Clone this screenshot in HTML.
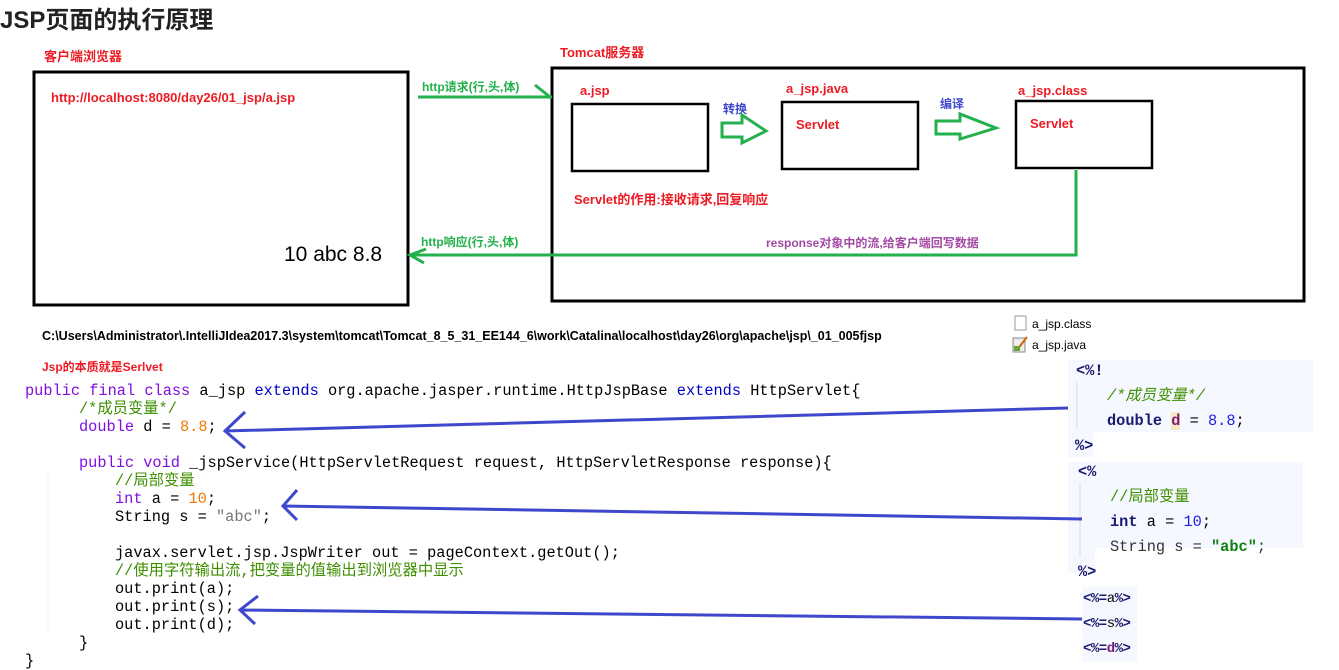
<!DOCTYPE html>
<html><head><meta charset="utf-8"><style>
body{margin:0;background:#fff;width:1339px;height:662px;overflow:hidden;position:relative;font-family:"Liberation Sans","Noto Sans CJK SC",sans-serif}
.a{position:absolute;white-space:pre}
.code{position:absolute;left:0;top:0;font-family:"Liberation Mono","Noto Sans CJK SC",monospace;font-size:15.3px;line-height:18px;color:#000}
.code div{position:absolute;white-space:pre}
.kw{color:#7f0ee0}.bk{color:#0000c8}.cm{color:#3f8f00}.num{color:#f07800}.str{color:#777}
</style></head><body>
<div class="a" style="left:0;top:0;font-size:24px;font-weight:bold;color:#222">JSP页面的执行原理</div>
<div class="a" style="left:44px;top:46px;font-size:13px;font-weight:bold;color:#ed1c24">客户端浏览器</div>
<div class="a" style="left:560px;top:42px;font-size:13px;font-weight:bold;color:#ed1c24">Tomcat服务器</div>
<div class="a" style="left:51px;top:90px;font-size:13px;font-weight:bold;color:#ed1c24">http://localhost:8080/day26/01_jsp/a.jsp</div>
<div class="a" style="left:284px;top:243px;font-size:21px;color:#000">10 abc 8.8</div>
<div class="a" style="left:422px;top:78px;font-size:12px;font-weight:bold;color:#22b14c">http请求(行,头,体)</div>
<div class="a" style="left:421px;top:233px;font-size:12px;font-weight:bold;color:#22b14c">http响应(行,头,体)</div>
<div class="a" style="left:580px;top:83px;font-size:13px;font-weight:bold;color:#ed1c24">a.jsp</div>
<div class="a" style="left:786px;top:81px;font-size:13px;font-weight:bold;color:#ed1c24">a_jsp.java</div>
<div class="a" style="left:1018px;top:83px;font-size:13px;font-weight:bold;color:#ed1c24">a_jsp.class</div>
<div class="a" style="left:796px;top:117px;font-size:13px;font-weight:bold;color:#ed1c24">Servlet</div>
<div class="a" style="left:1030px;top:116px;font-size:13px;font-weight:bold;color:#ed1c24">Servlet</div>
<div class="a" style="left:723px;top:100px;font-size:12px;font-weight:bold;color:#3f48cc">转换</div>
<div class="a" style="left:940px;top:95px;font-size:12px;font-weight:bold;color:#3f48cc">编译</div>
<div class="a" style="left:574px;top:189px;font-size:13px;font-weight:bold;color:#ed1c24">Servlet的作用:接收请求,回复响应</div>
<div class="a" style="left:766px;top:234px;font-size:12px;font-weight:bold;color:#a349a4">response对象中的流,给客户端回写数据</div>
<div class="a" style="left:42px;top:329px;font-size:12.5px;font-weight:bold;color:#000">C:\Users\Administrator\.IntelliJIdea2017.3\system\tomcat\Tomcat_8_5_31_EE144_6\work\Catalina\localhost\day26\org\apache\jsp\_01_005fjsp</div>
<div class="a" style="left:42px;top:358px;font-size:12px;font-weight:bold;color:#ed1c24">Jsp的本质就是Serlvet</div>
<div class="a" style="left:1032px;top:317px;font-size:12px;color:#000">a_jsp.class</div>
<div class="a" style="left:1032px;top:338px;font-size:12px;color:#000">a_jsp.java</div>

<svg width="1339" height="662" style="position:absolute;left:0;top:0">
<g fill="none" stroke="#000" stroke-width="3">
<rect x="34" y="72" width="374" height="233"/>
<rect x="552" y="68" width="752" height="233"/>
</g>
<g fill="none" stroke="#000" stroke-width="2.5">
<rect x="572" y="104" width="136" height="67"/>
<rect x="782" y="102" width="136" height="67"/>
<rect x="1016" y="101" width="136" height="67"/>
</g>
<g fill="none" stroke="#22b14c" stroke-width="3">
<path d="M418 97 L552 97 M535 85 L550 97"/>
<path d="M1076 170 L1076 255 L410 255 M426 249 L410 255 L424 263"/>
<path d="M722 123 L742 123 L742 115 L766 131 L742 143 L742 137 L722 137 Z"/>
<path d="M936 121 L960 121 L960 114 L996 128 L960 139 L960 134 L936 134 Z"/>
</g>
<rect x="1015" y="316" width="11" height="14" fill="#fff" stroke="#999"/>
<rect x="1013" y="338" width="12" height="14" fill="#eee" stroke="#888"/><path d="M1017 350 L1027 337" stroke="#c60" stroke-width="2"/><rect x="1014" y="346" width="6" height="5" fill="#6a3"/>
<rect x="1068" y="360" width="245" height="72" fill="#f5f8fe"/>
<rect x="1068" y="432" width="25" height="25" fill="#f5f8fe"/>
<rect x="1068" y="462" width="235" height="86" fill="#f5f8fe"/>
<rect x="1068" y="548" width="27" height="25" fill="#f5f8fe"/>
<rect x="1082" y="587" width="55" height="75" fill="#f5f8fe"/>
<line x1="1077" y1="382" x2="1077" y2="430" stroke="#ddd"/>
<line x1="1080" y1="483" x2="1080" y2="557" stroke="#ddd"/>
<line x1="48" y1="475" x2="48" y2="632" stroke="#ddd" stroke-dasharray="1 2"/>
<g fill="none" stroke="#3f48cc" stroke-width="3">
<path d="M1068 408 L225 431 M245 412 L225 431 L245 448"/>
<path d="M1082 519 L283 506 M297 490 L283 506 L297 520"/>
<path d="M1082 619 L240 610 M258 596 L240 610 L255 624"/>
</g>
</svg>

<div class="code">
<div style="left:25px;top:382px"><span class="kw">public final class</span> a_jsp <span class="bk">extends</span> org.apache.jasper.runtime.HttpJspBase <span class="bk">extends</span> HttpServlet{</div>
<div style="left:79px;top:400px" class="cm">/*成员变量*/</div>
<div style="left:79px;top:418px"><span class="kw">double</span> d = <span class="num">8.8</span>;</div>
<div style="left:79px;top:454px"><span class="kw">public void</span> _jspService(HttpServletRequest request, HttpServletResponse response){</div>
<div style="left:115px;top:472px" class="cm">//局部变量</div>
<div style="left:115px;top:490px"><span class="kw">int</span> a = <span class="num">10</span>;</div>
<div style="left:115px;top:508px">String s = <span class="str">"abc"</span>;</div>
<div style="left:115px;top:544px">javax.servlet.jsp.JspWriter out = pageContext.getOut();</div>
<div style="left:115px;top:562px" class="cm">//使用字符输出流,把变量的值输出到浏览器中显示</div>
<div style="left:115px;top:580px">out.print(a);</div>
<div style="left:115px;top:598px">out.print(s);</div>
<div style="left:115px;top:616px">out.print(d);</div>
<div style="left:79px;top:634px">}</div>
<div style="left:25px;top:652px">}</div>

<div style="left:1076px;top:362px;font-weight:bold;color:#1a1a6e">&lt;%!</div>
<div style="left:1107px;top:387px;font-style:italic" class="cm">/*成员变量*/</div>
<div style="left:1107px;top:412px"><b style="color:#1a1a6e">double</b> <b style="color:#7a1a7a;background:#f8e8c0">d</b> = <span style="color:#2020e0">8.8</span>;</div>
<div style="left:1075px;top:437px;font-weight:bold;color:#1a1a6e">%&gt;</div>
<div style="left:1078px;top:463px;font-weight:bold;color:#1a1a6e">&lt;%</div>
<div style="left:1110px;top:488px" class="cm">//局部变量</div>
<div style="left:1110px;top:513px"><b style="color:#1a1a6e">int</b> a = <span style="color:#2020e0">10</span>;</div>
<div style="left:1110px;top:538px;color:#333">String s = <b style="color:#108010">"abc"</b>;</div>
<div style="left:1078px;top:563px;font-weight:bold;color:#1a1a6e">%&gt;</div>
<div style="left:1083px;top:590px;font-size:14px;letter-spacing:-0.5px"><b style="color:#1a1a6e">&lt;%=</b>a<b style="color:#1a1a6e">%&gt;</b></div>
<div style="left:1083px;top:615px;font-size:14px;letter-spacing:-0.5px"><b style="color:#1a1a6e">&lt;%=</b>s<b style="color:#1a1a6e">%&gt;</b></div>
<div style="left:1083px;top:640px;font-size:14px;letter-spacing:-0.5px"><b style="color:#1a1a6e">&lt;%=</b><b style="color:#7a1a7a">d</b><b style="color:#1a1a6e">%&gt;</b></div>
</div>
</body></html>
